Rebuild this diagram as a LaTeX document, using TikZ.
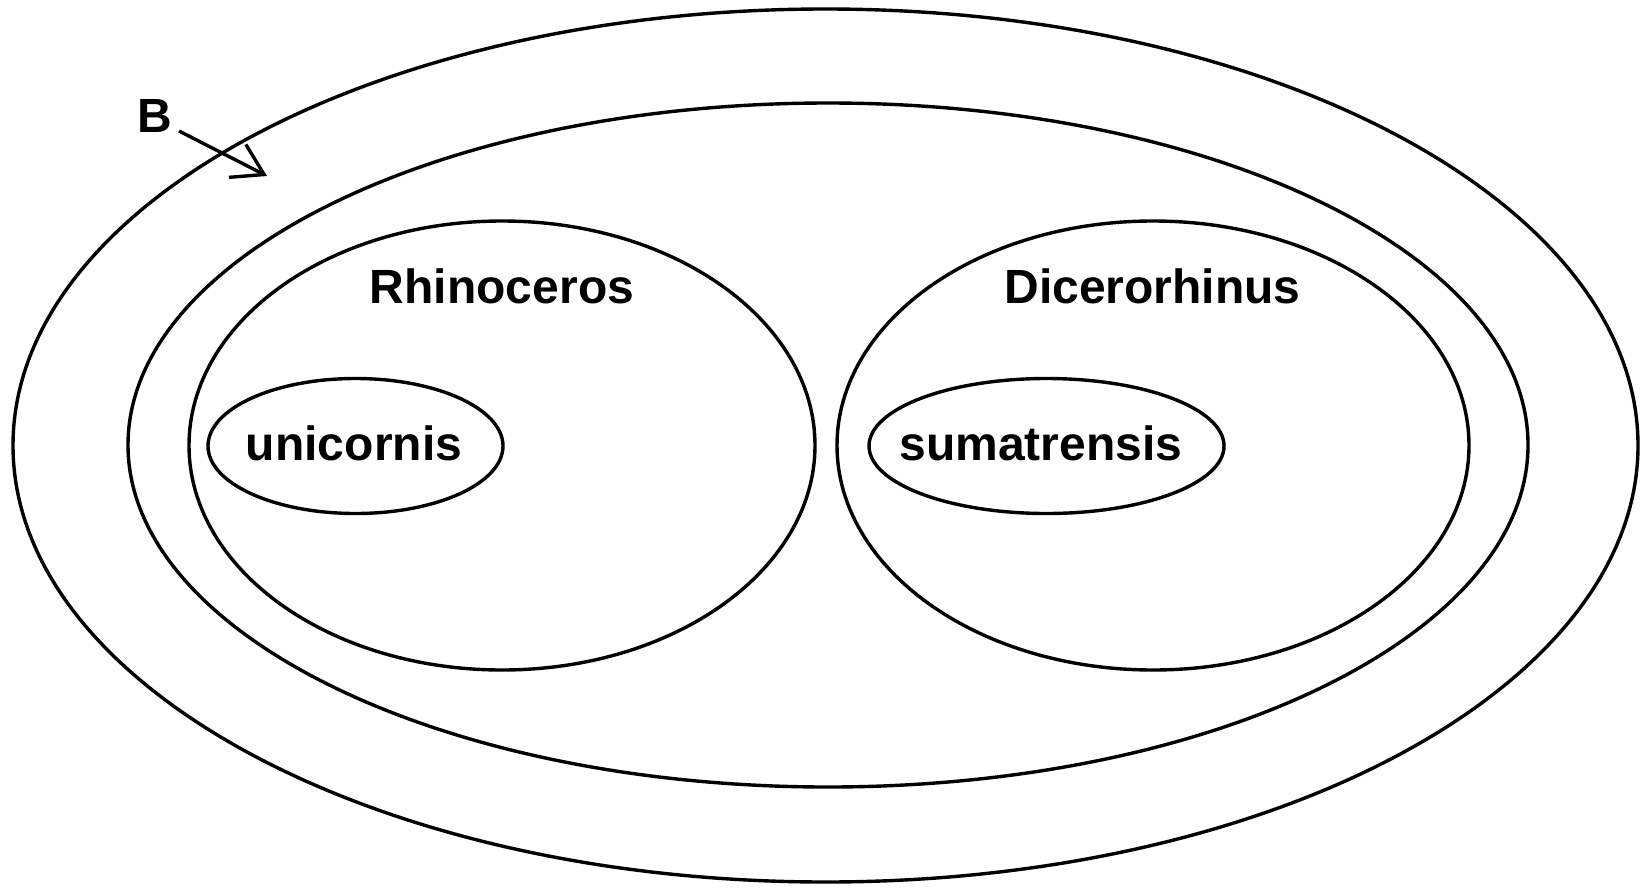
\documentclass[tikz,border=0pt]{standalone}
\usepackage{fontspec}
\setmainfont{Liberation Sans}
\usetikzlibrary{shapes.geometric,arrows.meta}
\begin{document}
\begin{tikzpicture}[x=1pt,y=-1pt,
  ell/.style={draw=black,line width=3.4pt,ellipse,inner sep=0pt},
  lbl/.style={font=\fontsize{48}{50}\selectfont\bfseries,inner sep=0pt},
  arrowline/.style={draw=black,line width=3.4pt,-{Straight Barb[length=30pt,width=37pt,sharp]}}]
\useasboundingbox (0,0) rectangle (1640,889);
\fill[white] (0,0) rectangle (1640,889);
\node[ell,minimum width=1625pt,minimum height=873pt] (outer) at (825.5,445.5) {};
\node[ell,minimum width=1400pt,minimum height=684pt] (inner) at (828,445) {};
\node[ell,minimum width=626pt,minimum height=449pt] (rhino) at (502,445.5) {};
\node[ell,minimum width=632pt,minimum height=449pt] (dicero) at (1153,445.5) {};
\node[ell,minimum width=295pt,minimum height=135pt] (uni) at (355.5,446) {};
\node[ell,minimum width=355pt,minimum height=135pt] (suma) at (1046.5,446) {};
\node[lbl] (rhinoL) at (502,286.5) {Rhinoceros};
\node[lbl] (diceroL) at (1152.5,286.5) {Dicerorhinus};
\node[lbl] (uniL) at (354,443) {unicornis};
\node[lbl] (sumaL) at (1041,443) {sumatrensis};
\node[lbl] (B) at (155,116) {B};
\coordinate (arrS) at (179,131);
\coordinate (arrT) at (267,176);
\draw[arrowline] (arrS) -- (arrT);
\end{tikzpicture}
\end{document}
